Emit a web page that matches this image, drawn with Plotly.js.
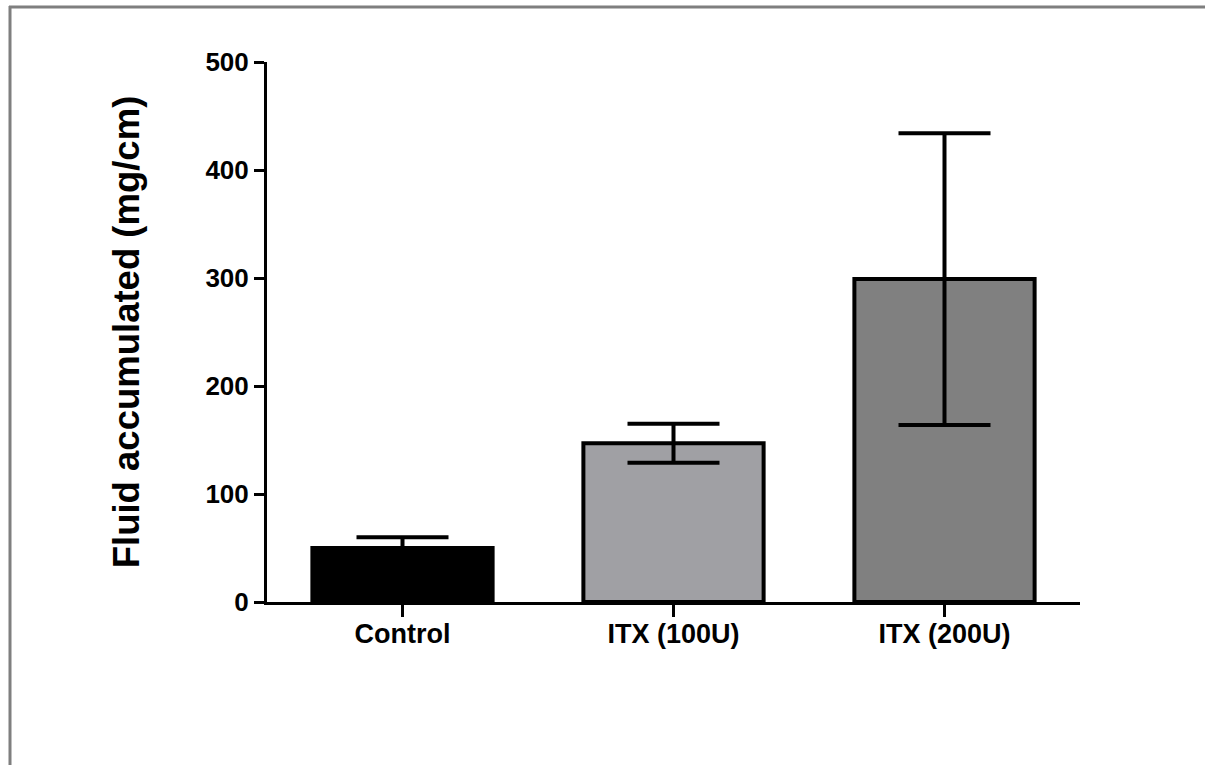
<!DOCTYPE html>
<html>
<head>
<meta charset="utf-8">
<script src="https://cdn.plot.ly/plotly-3.0.1.min.js"></script>
<style>
html,body{margin:0;padding:0;background:#fff;}
#chart{width:1205px;height:765px;}
</style>
</head>
<body>
<div id="chart"></div>
<script>
const categories = ["Control", "ITX (100U)", "ITX (200U)"];
const means = [50, 147, 299];
const errors = [10, 18, 135];
const barColors = ["#000000", "#A0A0A4", "#808080"];
const yTicks = [0, 100, 200, 300, 400, 500];

const L = 267, R = 1080, T = 62, B = 602, W = 1205, H = 765;
const px2x = p => (p - L) / (R - L);
const px2y = p => (B - p) / (B - T);
const FONT = "Liberation Sans, Arial, sans-serif";

const trace = {
  type: "bar",
  x: categories,
  y: means,
  width: 0.665,
  marker: {color: barColors, line: {color: "#000", width: 4}},
  error_y: {type: "data", array: errors, visible: true, color: "#000", thickness: 4, width: 46},
  hoverinfo: "none"
};

const layout = {
  width: W, height: H,
  margin: {l: L, r: W - R, t: T, b: H - B, pad: 0},
  paper_bgcolor: "#fff", plot_bgcolor: "#fff",
  showlegend: false,
  font: {family: FONT, color: "#000"},
  xaxis: {
    range: [-0.5, 2.5],
    showline: true, linecolor: "#000", linewidth: 3,
    ticks: "outside", ticklen: 12, tickwidth: 3, tickcolor: "#000",
    ticklabelstandoff: -6,
    showgrid: false, zeroline: false,
    tickfont: {size: 27, family: FONT, weight: "bold"},
    fixedrange: true
  },
  yaxis: {
    range: [0, 500],
    tickvals: yTicks,
    ticktext: yTicks.map(String),
    showline: true, linecolor: "#000", linewidth: 3,
    ticks: "outside", ticklen: 10, tickwidth: 3, tickcolor: "#000",
    showgrid: false, zeroline: false,
    tickfont: {size: 26, family: FONT, weight: "bold"},
    title: {text: "Fluid accumulated (mg/cm)", font: {size: 36.5, family: FONT, weight: "bold"}, standoff: 55},
    fixedrange: true
  },
  shapes: [
    {type: "line", xref: "paper", yref: "paper", x0: px2x(9), x1: px2x(1205), y0: px2y(7), y1: px2y(7), line: {color: "#7f7f7f", width: 3}},
    {type: "line", xref: "paper", yref: "paper", x0: px2x(10), x1: px2x(10), y0: px2y(6), y1: px2y(765), line: {color: "#7f7f7f", width: 3}}
  ]
};

Plotly.newPlot("chart", [trace], layout, {displayModeBar: false, staticPlot: true});
</script>
</body>
</html>
